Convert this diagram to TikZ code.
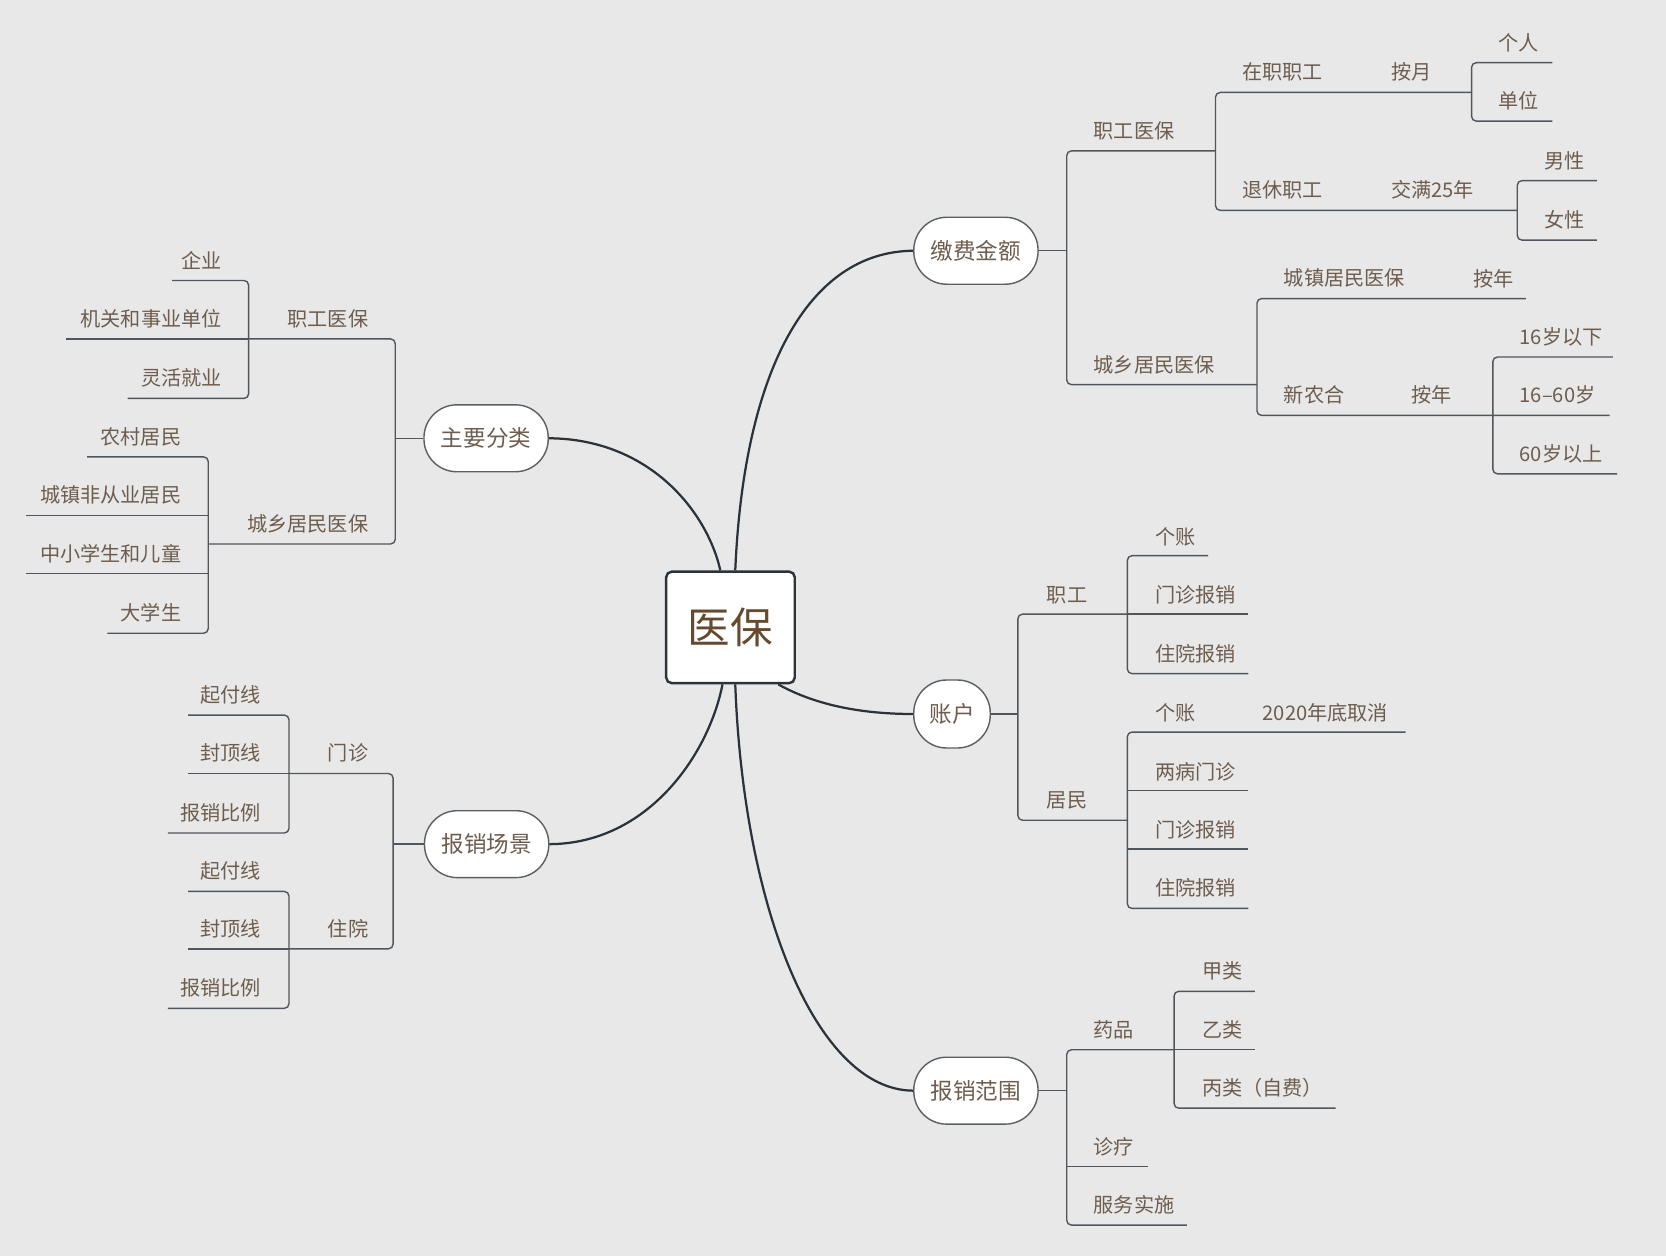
\documentclass[tikz,border=0pt]{standalone}
\usepackage{fontspec}
\newfontfamily\cjk{Noto Sans CJK SC}
\usetikzlibrary{calc}
\definecolor{bgc}{HTML}{E8E8E8}
\definecolor{txt}{HTML}{6E5D4E}
\definecolor{ctxt}{HTML}{654A2E}
\definecolor{ln}{HTML}{4F565D}
\definecolor{cv}{HTML}{2B323A}
\definecolor{pb}{HTML}{5A5F64}
\begin{document}
\begin{tikzpicture}[x=0.02cm,y=-0.02cm,
  lbl/.style={text=txt,font=\cjk\fontsize{10.8pt}{12pt}\selectfont,inner sep=0pt},
  lw/.style={lbl,anchor=west},
  le/.style={lbl,anchor=east},
  pill/.style={draw=pb,line width=0.75pt,fill=white,rounded corners=0.62cm,
    minimum width=2.34cm,minimum height=1.26cm,inner sep=0pt,text=txt,
    font=\cjk\fontsize{12.1pt}{14pt}\selectfont},
  hub/.style={draw=cv,line width=1.3pt,fill=white,rounded corners=3pt,
    minimum width=2.42cm,minimum height=2.1cm,inner sep=0pt,text=ctxt,
    font=\cjk\fontsize{22.8pt}{26pt}\selectfont},
  tl/.style={draw=ln,line width=0.75pt,rounded corners=2.5pt},
  cur/.style={draw=cv,line width=1.2pt}]
\fill[bgc] (0,0) rectangle (1568,1182);
\useasboundingbox (0,0) rectangle (1568,1182);

% hub and main branches
\node[hub] (c) at (687.5,590.5) {医保};
\node[pill] (jf) at (918.5,236) {缴费金额};
\node[pill] (zy) at (457.5,412.5) {主要分类};
\node[pill] (bx) at (458,794.5) {报销场景};
\node[pill,minimum width=1.44cm,minimum height=1.28cm] (zh) at (896,672) {账户};
\node[pill] (bf) at (918.5,1026.5) {报销范围};

\draw[cur] ($(c.north)+(4.5,0)$) .. controls (700,350) and (760,237) .. (jf.west);
\draw[cur] ($(c.north)+(-9.5,0)$) .. controls (665,480) and (610,413) .. (zy.east);
\draw[cur] ($(c.south)+(-7.5,0)$) .. controls (667,710) and (610,794) .. (bx.east);
\draw[cur] ($(c.south)+(45,0)$) .. controls (770,665) and (815,672) .. (zh.west);
\draw[cur] ($(c.south)+(4.5,0)$) .. controls (700,860) and (770,1026) .. (bf.west);

% ---- 缴费金额
\node[lw] (r1) at (1029,123) {职工医保};
\node[lw] (r2) at (1169,68) {在职职工};
\node[lw] (r3) at (1309,68) {按月};
\node[lw] (r4) at (1410,40) {个人};
\node[lw] (r5) at (1410,95) {单位};
\node[lw] (r6) at (1169,179) {退休职工};
\node[lw] (r7) at (1309,179) {交满25年};
\node[lw] (r8) at (1453,151) {男性};
\node[lw] (r9) at (1453,207) {女性};
\node[lw] (r10) at (1029,343) {城乡居民医保};
\node[lw] (r11) at (1208,262) {城镇居民医保};
\node[lw] (r12) at (1386,262) {按年};
\node[lw] (r13) at (1208,372) {新农合};
\node[lw] (r14) at (1328,372) {按年};
\node[lw] (r15) at (1430,317) {16岁以下};
\node[lw] (r16) at (1430,372) {16–60岁};
\node[lw] (r17) at (1430,427) {60岁以上};

\draw[tl] (jf.east) -- (1004,236);
\draw[tl] (1144,142) -- (1004,142) -- (1004,362) -- (1183,362);
\draw[tl] (1385,87) -- (1144,87) -- (1144,198) -- (1428,198);
\draw[tl] (1461,59) -- (1385,59) -- (1385,114) -- (1461,114);
\draw[tl] (1503,170) -- (1428,170) -- (1428,226) -- (1503,226);
\draw[tl] (1436,281) -- (1183,281) -- (1183,391) -- (1515,391);
\draw[tl] (1518,336) -- (1405,336) -- (1405,446) -- (1522,446);

% ---- 主要分类
\node[le] (l1) at (347,300) {职工医保};
\node[le] (l2) at (209,245) {企业};
\node[le] (l3) at (209,300) {机关和事业单位};
\node[le] (l4) at (209,356) {灵活就业};
\node[le] (l5) at (347,493) {城乡居民医保};
\node[le] (l6) at (171,411) {农村居民};
\node[le] (l7) at (171,466) {城镇非从业居民};
\node[le] (l8) at (171,521) {中小学生和儿童};
\node[le] (l9) at (171,577) {大学生};

\draw[tl] (zy.west) -- (372,412.5);
\draw[tl] (234,319) -- (372,319) -- (372,512) -- (196,512);
\draw[tl] (162,264) -- (234,264) -- (234,375) -- (120,375);
\draw[tl] (234,319) -- (62,319);
\draw[tl] (82,430) -- (196,430) -- (196,596) -- (101,596);
\draw[tl] (196,485) -- (24,485);
\draw[tl] (196,540) -- (24,540);

% ---- 报销场景
\node[le] (m1) at (347,709) {门诊};
\node[le] (m2) at (246,654) {起付线};
\node[le] (m3) at (246,709) {封顶线};
\node[le] (m4) at (246,765) {报销比例};
\node[le] (m5) at (347,874) {住院};
\node[le] (m6) at (246,820) {起付线};
\node[le] (m7) at (246,874) {封顶线};
\node[le] (m8) at (246,930) {报销比例};

\draw[tl] (bx.west) -- (370,794.5);
\draw[tl] (272,728) -- (370,728) -- (370,893) -- (272,893);
\draw[tl] (177,673) -- (272,673) -- (272,784) -- (158,784);
\draw[tl] (272,728) -- (177,728);
\draw[tl] (177,839) -- (272,839) -- (272,949) -- (158,949);
\draw[tl] (272,893) -- (177,893);

% ---- 账户
\node[lw] (a1) at (985,560) {职工};
\node[lw] (a2) at (1087,505) {个账};
\node[lw] (a3) at (1087,560) {门诊报销};
\node[lw] (a4) at (1087,615) {住院报销};
\node[lw] (a5) at (985,753) {居民};
\node[lw] (a6) at (1087,671) {个账};
\node[lw] (a7) at (1188,671) {2020年底取消};
\node[lw] (a8) at (1087,726) {两病门诊};
\node[lw] (a9) at (1087,781) {门诊报销};
\node[lw] (a10) at (1087,836) {住院报销};

\draw[tl] (zh.east) -- (958,672);
\draw[tl] (1061,578) -- (958,578) -- (958,772) -- (1061,772);
\draw[tl] (1137,523) -- (1061,523) -- (1061,634) -- (1175,634);
\draw[tl] (1061,578) -- (1175,578);
\draw[tl] (1323,689) -- (1061,689) -- (1061,855) -- (1175,855);
\draw[tl] (1061,744) -- (1175,744);
\draw[tl] (1061,799) -- (1175,799);

% ---- 报销范围
\node[lw] (f1) at (1029,969) {药品};
\node[lw] (f2) at (1131,914) {甲类};
\node[lw] (f3) at (1131,969) {乙类};
\node[lw] (f4) at (1131,1024) {丙类（自费）};
\node[lw] (f5) at (1029,1079) {诊疗};
\node[lw] (f6) at (1029,1134) {服务实施};

\draw[tl] (bf.east) -- (1004,1026.5);
\draw[tl] (1105,988) -- (1004,988) -- (1004,1153) -- (1117,1153);
\draw[tl] (1004,1098) -- (1080,1098);
\draw[tl] (1181,933) -- (1105,933) -- (1105,1043) -- (1257,1043);
\draw[tl] (1105,988) -- (1181,988);
\end{tikzpicture}
\end{document}
